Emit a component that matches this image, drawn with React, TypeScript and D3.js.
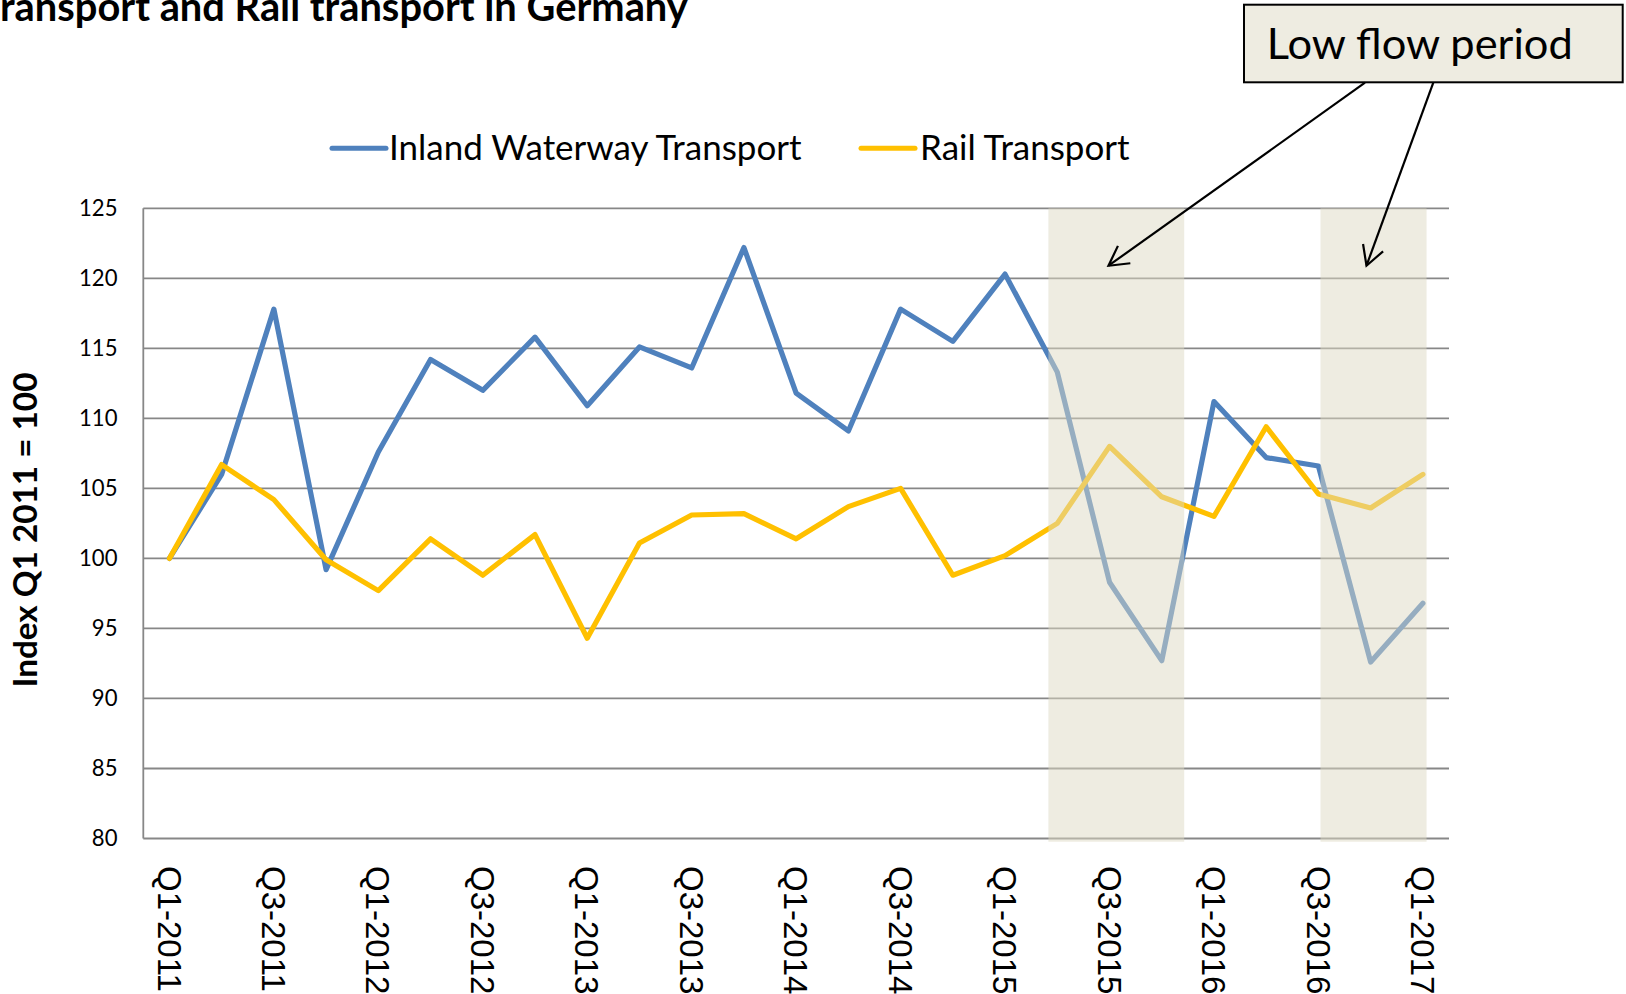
import React, { useMemo } from 'react';
import * as d3 from 'd3';

const categories = [
  'Q1-2011', 'Q2-2011', 'Q3-2011', 'Q4-2011',
  'Q1-2012', 'Q2-2012', 'Q3-2012', 'Q4-2012',
  'Q1-2013', 'Q2-2013', 'Q3-2013', 'Q4-2013',
  'Q1-2014', 'Q2-2014', 'Q3-2014', 'Q4-2014',
  'Q1-2015', 'Q2-2015', 'Q3-2015', 'Q4-2015',
  'Q1-2016', 'Q2-2016', 'Q3-2016', 'Q4-2016',
  'Q1-2017',
];

const waterway = [
  100, 106.0, 117.8, 99.2,
  107.6, 114.2, 112.0, 115.8,
  110.9, 115.1, 113.6, 122.2,
  111.8, 109.1, 117.8, 115.5,
  120.3, 113.3, 98.3, 92.7,
  111.2, 107.2, 106.6, 92.6,
  96.8,
];

const rail = [
  100, 106.7, 104.2, 99.9,
  97.7, 101.4, 98.8, 101.7,
  94.3, 101.1, 103.1, 103.2,
  101.4, 103.7, 105.0, 98.8,
  100.2, 102.5, 108.0, 104.4,
  103.0, 109.4, 104.6, 103.6,
  106.0,
];

const yTicks = [80, 85, 90, 95, 100, 105, 110, 115, 120, 125];
const xTickLabels = categories.filter((_, i) => i % 2 === 0);

// low flow periods, in (fractional) category index units
const shadeFrom = [16.83, 22.04];
const shadeTo = [19.43, 24.07];

// arrow targets (category index, index value)
const arrowTargetIdx = [17.98, 22.92];
const arrowTargetVal = [120.9, 120.9];

const seriesNames = ['Inland Waterway Transport', 'Rail Transport'];
const seriesColors = ['#4F81BD', '#FFC000'];

const titleText = 'ransport and Rail transport in Germany';
const yTitle = 'Index Q1 2011 = 100';
const noteText = 'Low flow period';

const FONT = 'Lato';

function fitSize(text: string, weight: number, family: string, target: number) {
  try {
    const c = document.createElement('canvas');
    const ctx = c.getContext('2d');
    if (!ctx) return target / text.length * 1.9;
    ctx.font = `${weight} 100px ${family}`;
    const w = ctx.measureText(text).width;
    return (100 * target) / w;
  } catch (e) {
    return target / text.length * 1.9;
  }
}

export default function App() {
  const W = 1626;
  const H = 994;
  const left = 143.3;
  const right = 1449;
  const top = 208.3;
  const bottom = 838.5;

  const x = d3.scaleBand<string>().domain(categories).range([left, right]);
  const bw = x.bandwidth();
  const cx = (c: string) => (x(c) as number) + bw / 2;
  const xi = d3.scaleLinear().domain([0, categories.length - 1]).range([cx(categories[0]), cx(categories[categories.length - 1])]);
  const y = d3.scaleLinear().domain([80, 125]).range([bottom, top]);

  const line = d3
    .line<number>()
    .x((_, i) => cx(categories[i]))
    .y((d) => y(d));

  const sizes = useMemo(() => ({
    title: fitSize(titleText, 700, FONT, 688),
    legend: fitSize(seriesNames[0], 400, FONT, 415),
    tick: fitSize('125', 400, FONT, 38.5),
    ytitle: fitSize(yTitle, 700, FONT, 315),
    note: fitSize(noteText, 400, FONT, 308),
  }), []);

  const legendItems = [
    { x1: 332, x2: 386, tx: 389 },
    { x1: 861, x2: 915, tx: 920 },
  ];

  const boxX = 1244, boxY = 4.7, boxW = 378.7, boxH = 77.6;
  const arrowStarts = [[1365, 82.7], [1433.3, 82.7]];

  const arrowHead = (sx: number, sy: number, tx: number, ty: number) => {
    const ang = Math.atan2(ty - sy, tx - sx);
    const L = 22;
    const a = Math.PI / 6.2;
    const p1 = [tx - L * Math.cos(ang - a), ty - L * Math.sin(ang - a)];
    const p2 = [tx - L * Math.cos(ang + a), ty - L * Math.sin(ang + a)];
    return `M${p1[0]},${p1[1]}L${tx},${ty}L${p2[0]},${p2[1]}`;
  };

  return (
    <svg
      width={W}
      height={H}
      style={{ position: 'absolute', left: 0, top: 0, background: '#fff' }}
      fontFamily={FONT}
    >
      {/* gridlines */}
      {yTicks.map((t) => (
        <line key={t} x1={left} x2={right} y1={y(t)} y2={y(t)} stroke="#878787" strokeWidth={t === 80 ? 2.2 : 1.8} />
      ))}
      <line x1={left} x2={left} y1={top} y2={bottom} stroke="#878787" strokeWidth={1.8} />

      {/* series */}
      <path d={line(waterway) || ''} fill="none" stroke={seriesColors[0]} strokeWidth={5.2} strokeLinejoin="round" strokeLinecap="round" />
      <path d={line(rail) || ''} fill="none" stroke={seriesColors[1]} strokeWidth={5.2} strokeLinejoin="round" strokeLinecap="round" />

      {/* low flow shading */}
      {shadeFrom.map((f, i) => (
        <rect key={i} x={xi(f)} y={top} width={xi(shadeTo[i]) - xi(f)} height={bottom - top + 3.2} fill="#DDD9C3" fillOpacity={0.5} />
      ))}

      {/* y tick labels */}
      {yTicks.map((t) => (
        <text key={t} x={117.5} y={y(t)} dy="0.36em" textAnchor="end" fontSize={sizes.tick} fill="#000">
          {t}
        </text>
      ))}

      {/* x tick labels */}
      {xTickLabels.map((c) => (
        <text
          key={c}
          transform={`translate(${cx(c)},866) rotate(90)`}
          dy="0.36em"
          fontFamily="'Liberation Sans', Arial, sans-serif"
          fontSize={33}
          fill="#000"
        >
          {c}
        </text>
      ))}

      {/* y axis title */}
      <text
        transform={`translate(37,530) rotate(-90)`}
        textAnchor="middle"
        fontWeight={700}
        fontSize={sizes.ytitle}
        fill="#000"
      >
        {yTitle}
      </text>

      {/* title (cut off at the top, as in the source image) */}
      <text x={0} y={21} fontWeight={700} fontSize={sizes.title} fill="#000">
        {titleText}
      </text>

      {/* legend */}
      {legendItems.map((l, i) => (
        <g key={i}>
          <line x1={l.x1} x2={l.x2} y1={148.3} y2={148.3} stroke={seriesColors[i]} strokeWidth={5} strokeLinecap="round" />
          <text x={l.tx} y={160} fontSize={sizes.legend} fill="#000">
            {seriesNames[i]}
          </text>
        </g>
      ))}

      {/* annotation */}
      <rect x={boxX} y={boxY} width={boxW} height={boxH} fill="#EEECE1" stroke="#000" strokeWidth={2} />
      <text x={1266.7} y={59.3} fontSize={sizes.note} fill="#000">
        {noteText}
      </text>
      {arrowStarts.map((s, i) => {
        const tx = xi(arrowTargetIdx[i]);
        const ty = y(arrowTargetVal[i]);
        return (
          <g key={i} fill="none" stroke="#000" strokeWidth={2.2}>
            <line x1={s[0]} y1={s[1]} x2={tx} y2={ty} />
            <path d={arrowHead(s[0], s[1], tx, ty)} />
          </g>
        );
      })}
    </svg>
  );
}
